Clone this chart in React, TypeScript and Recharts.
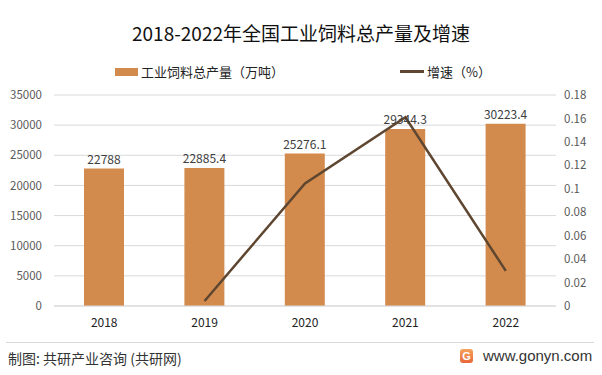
import React from 'react';
import { ComposedChart, Bar, Line, XAxis, YAxis, CartesianGrid, LabelList } from 'recharts';

const years = ['2018', '2019', '2020', '2021', '2022'];
const output = [22788, 22885.4, 25276.1, 29344.3, 30223.4];
const growth = [null, 0.0043, 0.1045, 0.161, 0.03];
const leftTicks = [0, 5000, 10000, 15000, 20000, 25000, 30000, 35000];
const rightTicks = [0, 0.02, 0.04, 0.06, 0.08, 0.1, 0.12, 0.14, 0.16, 0.18];

const data = years.map((y, i) => ({ year: y, output: output[i], growth: growth[i] }));

const BAR = '#D38B4D';
const LINE = '#5E4630';
const FONT = '"Noto Sans CJK SC", "Noto Sans", sans-serif';

const App: React.FC = () => {
  return (
    <div style={{ position: 'absolute', left: 0, top: 0, width: 602, height: 375, background: '#fff', fontFamily: FONT, overflow: 'hidden' }}>
      <div style={{ position: 'absolute', top: 19, left: 0, width: 602, textAlign: 'center', fontSize: 19, color: '#111' }}>
        2018-2022年全国工业饲料总产量及增速
      </div>
      <div style={{ position: 'absolute', top: 62, left: 115, display: 'flex', alignItems: 'center', fontSize: 13, color: '#222' }}>
        <span style={{ display: 'inline-block', width: 23, height: 8, background: BAR, marginRight: 3 }}></span>
        工业饲料总产量（万吨）
      </div>
      <div style={{ position: 'absolute', top: 62, left: 400, display: 'flex', alignItems: 'center', fontSize: 13, color: '#222' }}>
        <span style={{ display: 'inline-block', width: 24, height: 3, background: LINE, marginRight: 3 }}></span>
        增速（%）
      </div>
      <div style={{ position: 'absolute', top: 0, left: 0 }}>
        <ComposedChart width={602} height={375} data={data} margin={{ top: 95, left: 4, right: 0, bottom: 39 }}>
          <CartesianGrid yAxisId="left" vertical={false} stroke="#D9D9D9" />
          <XAxis dataKey="year" axisLine={{ stroke: '#D9D9D9' }} tickLine={false} height={30} tickMargin={6}
            tick={{ fill: '#222', fontSize: 12, fontFamily: FONT }} />
          <YAxis yAxisId="left" domain={[0, 35000]} ticks={leftTicks} width={50} axisLine={false} tickLine={false} tickMargin={6}
            tick={{ fill: '#595959', fontSize: 11.5, fontFamily: FONT }} />
          <YAxis yAxisId="right" orientation="right" domain={[0, 0.18]} ticks={rightTicks} width={46} axisLine={false} tickLine={false}
            tickFormatter={(v: number) => String(parseFloat(v.toFixed(2)))}
            tick={{ fill: '#595959', fontSize: 11.5, fontFamily: FONT, textAnchor: 'start' }} />
          <Bar yAxisId="left" dataKey="output" fill={BAR} barSize={40} isAnimationActive={false}>
            <LabelList dataKey="output" position="top" offset={5} fill="#404040" fontSize={12} fontFamily={FONT} />
          </Bar>
          <Line yAxisId="right" dataKey="growth" stroke={LINE} strokeWidth={2.5} dot={false} isAnimationActive={false} connectNulls={false} />
        </ComposedChart>
      </div>
      <div style={{ position: 'absolute', top: 342, left: 6, width: 588, height: 1, background: '#D9D9D9' }}></div>
      <div style={{ position: 'absolute', top: 348, left: 8, fontSize: 14, color: '#333' }}>制图: 共研产业咨询 (共研网)</div>
      <div style={{ position: 'absolute', top: 347, left: 460, display: 'flex', alignItems: 'center', fontSize: 15, color: '#333', fontFamily: '"Liberation Sans", Arial, sans-serif' }}>
        <span style={{ display: 'inline-block', width: 13, height: 14, borderRadius: 3, background: 'linear-gradient(#F6A35A, #E8663A)', color: '#fff', fontSize: 11, fontWeight: 700, lineHeight: '14px', textAlign: 'center', marginRight: 10 }}>G</span>
        www.gonyn.com
      </div>
    </div>
  );
};

export default App;
